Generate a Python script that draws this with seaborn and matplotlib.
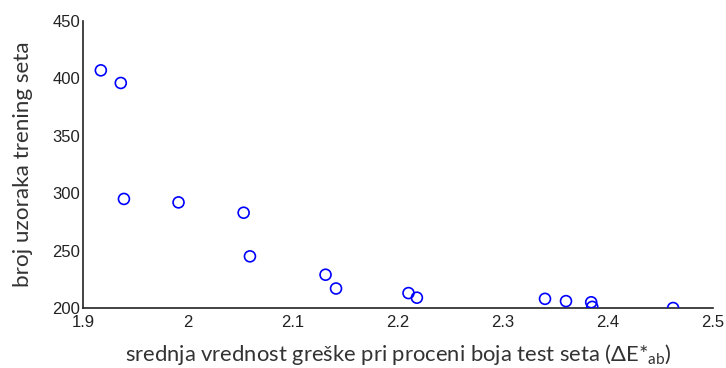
import matplotlib
matplotlib.use("Agg")
import matplotlib.pyplot as plt
import seaborn as sns
import pandas as pd
from matplotlib.ticker import FuncFormatter

# Mean colour-estimation error on the test set vs. training-set size
mean_error = [1.917, 1.936, 1.939, 1.991, 2.053, 2.059, 2.131, 2.141,
              2.210, 2.218, 2.340, 2.360, 2.384, 2.385, 2.462]
train_samples = [407, 396, 295, 292, 283, 245, 229, 217,
                 213, 209, 208, 206, 205, 201, 200]

x_ticks = [1.9, 2.0, 2.1, 2.2, 2.3, 2.4, 2.5]
y_ticks = [200, 250, 300, 350, 400, 450]

x_label = "srednja vrednost greške pri proceni boja test seta (ΔE*$_{\\mathrm{ab}}$)"
y_label = "broj uzoraka trening seta"

df = pd.DataFrame({"err": mean_error, "n": train_samples})

sns.set_theme(style="white")
plt.rcParams["mathtext.fontset"] = "custom"
plt.rcParams["mathtext.rm"] = "Lato"
plt.rcParams["mathtext.it"] = "Lato:italic"

fig = plt.figure(figsize=(7.26, 3.68), dpi=100)
ax = fig.add_axes([0.1143, 0.163, 0.8678, 0.780])

sns.scatterplot(data=df, x="err", y="n", ax=ax, marker="o",
                fc="none", ec="#0000ff", s=62, linewidth=1.2, zorder=3)

ax.set_xlim(1.9, 2.5)
ax.set_ylim(200, 450)
ax.set_xticks(x_ticks)
ax.set_yticks(y_ticks)
ax.xaxis.set_major_formatter(FuncFormatter(lambda v, p: f"{v:g}"))
ax.yaxis.set_major_formatter(FuncFormatter(lambda v, p: f"{v:g}"))

for side in ("top", "right"):
    ax.spines[side].set_visible(False)
for side in ("left", "bottom"):
    ax.spines[side].set_color("#222222")
    ax.spines[side].set_linewidth(1.2)

ax.tick_params(direction="in", length=5, width=1.1, color="#222222",
               labelsize=12, labelcolor="#222222")
ax.tick_params(axis="x", pad=5)
ax.tick_params(axis="y", pad=2)
for lbl in ax.get_xticklabels() + ax.get_yticklabels():
    lbl.set_fontfamily("Liberation Sans")

ax.set_xlabel(x_label, fontsize=15.8, family="Lato", color="#333333", labelpad=9)
ax.set_ylabel(y_label, fontsize=16.2, family="Lato", color="#333333", labelpad=14)

fig.savefig("out.png", dpi=100)
